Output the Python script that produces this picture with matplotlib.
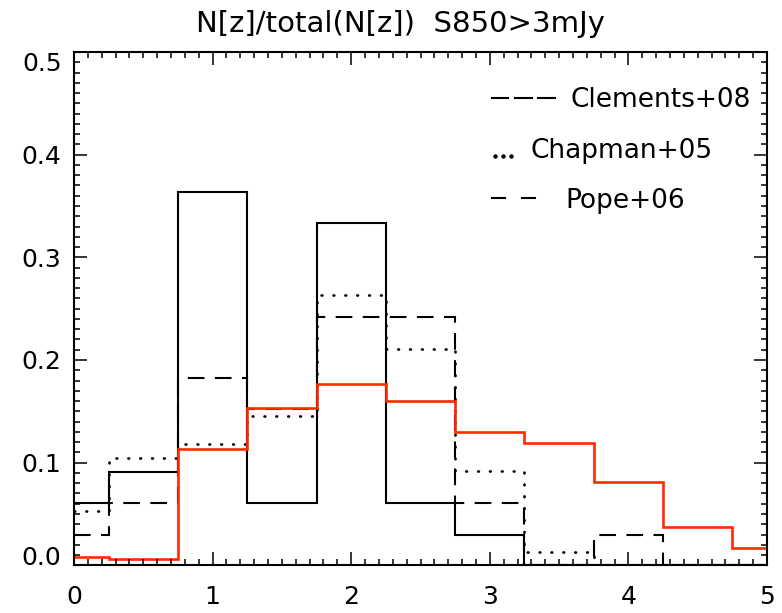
import matplotlib
matplotlib.use("Agg")
import matplotlib.pyplot as plt
from matplotlib.lines import Line2D
from matplotlib.ticker import MultipleLocator

# redshift bin edges (bins of 0.5 centred on 0, 0.5, ... 5.0, clipped to 0-5)
z_edges = [0.0, 0.25, 0.75, 1.25, 1.75, 2.25, 2.75, 3.25, 3.75, 4.25, 4.75, 5.0]

clements = [0.061, 0.091, 0.364, 0.061, 0.333, 0.061, 0.030, 0.0, 0.0, 0.0, 0.0]
chapman = [0.053, 0.105, 0.118, 0.145, 0.263, 0.211, 0.092, 0.013, 0.0, 0.0, 0.0]
pope = [0.030, 0.061, 0.182, 0.152, 0.242, 0.242, 0.061, 0.0, 0.030, 0.0, 0.0]
model = [0.008, 0.006, 0.113, 0.153, 0.177, 0.160, 0.130, 0.119, 0.081, 0.037, 0.017]

legend_names = ["Clements+08", "Chapman+05", "Pope+06"]
title = "N[z]/total(N[z])  S850>3mJy"

W, H = 782, 613
plt.rcParams["font.family"] = "DejaVu Sans"

fig = plt.figure(figsize=(W / 100, H / 100), dpi=100)
ax = fig.add_axes([74 / W, 1 - 565.3 / H, (767 - 74) / W, (565.3 - 52) / H])

lw = 1.5
ax.stairs(clements, z_edges, baseline=None, color="black", lw=lw)
dots = ax.stairs(chapman, z_edges, baseline=None, color="black", lw=1.9,
                 linestyle=(0, (0.3, 4.2)))
dots.set_capstyle("round")
ax.stairs(pope, z_edges, baseline=None, color="black", lw=lw, linestyle=(0, (8, 5)))
ax.stairs(model, z_edges, baseline=None, color="#ff2a00", lw=1.9)

ax.set_xlim(0, 5)
ax.set_ylim(0, 0.5)
ax.xaxis.set_minor_locator(MultipleLocator(0.1))
ax.yaxis.set_minor_locator(MultipleLocator(0.01))
ax.set_xticks([0, 1, 2, 3, 4, 5])
ax.set_xticklabels(["0", "1", "2", "3", "4", "5"])
ax.set_yticks([0.0, 0.1, 0.2, 0.3, 0.4, 0.5])
ax.set_yticklabels(["0.0", "0.1", "0.2", "0.3", "0.4", "0.5"])

ax.tick_params(which="both", direction="in", top=True, right=True, width=1.1, labelsize=18)
ax.tick_params(which="major", length=9.5)
ax.tick_params(which="minor", length=4.3)
ax.tick_params(axis="x", pad=14)
ax.tick_params(axis="y", pad=9)
for sp in ax.spines.values():
    sp.set_linewidth(1.5)

ylabels = ax.get_yticklabels()
ylabels[0].set_va("baseline")
ylabels[-1].set_va("top")


def px(x, y):
    return x / W, 1 - y / H


# title
fig.text(*px(400, 32), title, ha="center", va="baseline", fontsize=21)

# text-style legend
tf = fig.transFigure
for x0, x1 in [(492, 508), (515, 532), (538, 555)]:
    fig.add_artist(Line2D([x0 / W, x1 / W], [1 - 98 / H] * 2, transform=tf, color="black", lw=1.5))
for x0 in [495, 503, 511]:
    fig.add_artist(Line2D([x0 / W], [1 - 156 / H], transform=tf, color="black",
                          marker="o", ms=2.2, lw=0))
for x0, x1 in [(492, 505), (522, 535)]:
    fig.add_artist(Line2D([x0 / W, x1 / W], [1 - 198 / H] * 2, transform=tf, color="black", lw=1.5))

fig.text(*px(570, 107), legend_names[0], ha="left", va="baseline", fontsize=19)
fig.text(*px(530, 158), legend_names[1], ha="left", va="baseline", fontsize=19)
fig.text(*px(565, 208), legend_names[2], ha="left", va="baseline", fontsize=19)

fig.savefig("out.png", dpi=100)
